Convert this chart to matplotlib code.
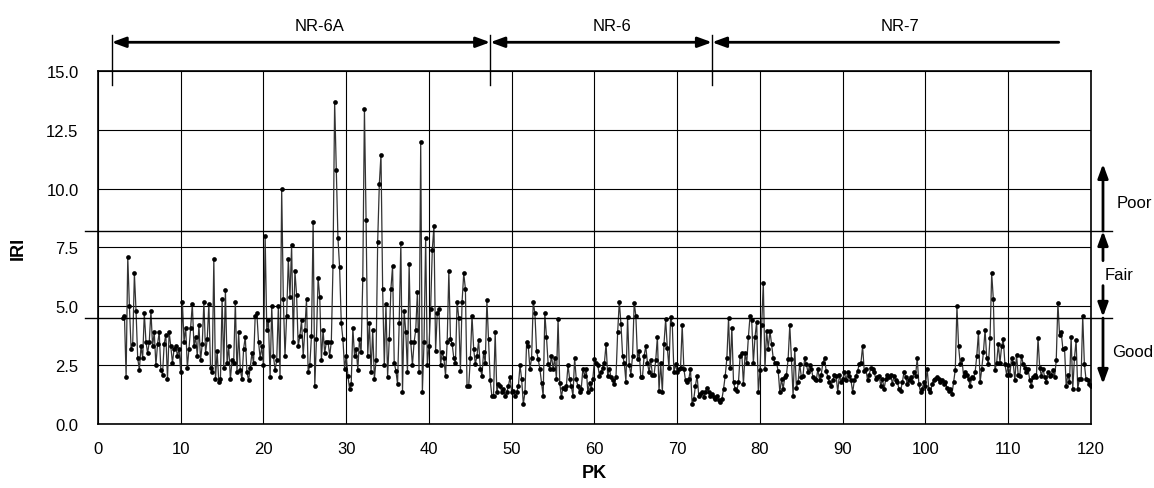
import numpy as np
import matplotlib
matplotlib.use('Agg')
import matplotlib.pyplot as plt
from matplotlib.patches import ArrowStyle

plt.rcParams['font.family'] = ['Liberation Sans', 'DejaVu Sans']

# IRI readings, one every 0.2 km, each list starts at the PK given in seg_start
seg_start = [3.0, 10.0, 20.0, 30.0, 40.0, 50.0, 60.0, 70.0, 80.0, 90.0, 100.0, 110.0]

iri_03 = [4.5, 4.6, 2.0, 7.1, 5.0, 3.2, 3.4, 6.4, 4.8, 2.8, 2.3, 3.3, 2.8, 4.7, 3.5, 3.0, 3.5, 4.8,
          3.3, 3.9, 2.5, 3.4, 3.9, 2.3, 2.1, 3.4, 3.8, 1.9, 3.9, 3.3, 2.6, 3.2, 3.3, 2.9, 3.2]
iri_10 = [2.2, 5.2, 3.5, 4.1, 2.4, 3.2, 4.1, 5.1, 3.3, 3.7,
          2.9, 4.2, 2.7, 3.4, 5.2, 3.0, 3.6, 5.1, 2.4, 2.2,
          7.0, 1.9, 3.1, 1.8, 1.9, 5.3, 2.4, 5.7, 2.6, 3.3,
          1.9, 2.7, 2.6, 5.2, 2.2, 3.9, 2.3, 1.9, 3.2, 3.7,
          2.2, 1.85, 2.4, 3.0, 2.6, 4.6, 4.7, 3.5, 2.8, 3.3]
iri_20 = [2.5, 8.0, 4.0, 4.4, 2.0, 5.0, 2.9, 2.3, 2.7, 5.0,
          2.0, 10.0, 5.3, 2.9, 4.6, 7.0, 5.4, 7.6, 3.5, 6.5,
          5.5, 3.3, 3.75, 4.4, 2.9, 4.0, 5.3, 2.2, 2.5, 3.75,
          8.6, 1.6, 3.6, 6.2, 5.4, 2.7, 4.0, 3.0, 3.5, 3.5,
          2.9, 3.5, 6.7, 13.7, 10.8, 7.9, 6.65, 4.3, 3.6, 2.35]
iri_30 = [2.9, 2.05, 1.5, 1.7, 4.1, 2.9, 3.2, 2.3, 3.6, 3.05,
          6.15, 13.4, 8.65, 2.9, 4.3, 2.2, 4.0, 1.9, 2.7, 7.75,
          10.2, 11.45, 5.75, 2.5, 5.1, 2.0, 3.6, 5.75, 6.7, 2.6,
          2.27, 1.7, 4.3, 7.7, 1.35, 4.8, 3.9, 2.2, 6.8, 3.47,
          2.5, 3.47, 4.0, 5.6, 2.2, 12.0, 1.35, 3.47, 7.9, 2.5]
iri_40 = [3.3, 4.9, 7.4, 8.4, 3.1, 4.7, 4.9, 2.5, 3.05, 2.8,
          2.05, 3.5, 6.5, 3.6, 3.4, 2.8, 2.6, 5.2, 4.5, 2.25,
          5.2, 6.4, 5.75, 1.6, 1.6, 2.8, 4.6, 3.2, 2.55, 2.9,
          3.55, 2.35, 2.05, 3.05, 2.6, 5.25, 3.6, 1.85, 1.2, 1.2,
          3.9, 1.35, 1.7, 1.6, 1.35, 1.5, 1.2, 1.35, 1.6, 2.0]
iri_50 = [1.35, 1.4, 1.2, 1.35, 1.6, 2.5, 1.9, 0.85, 1.35, 3.5,
          3.3, 2.35, 2.8, 5.2, 4.7, 3.1, 2.75, 2.35, 1.75, 1.2,
          4.7, 3.7, 2.55, 2.35, 2.9, 2.35, 2.8, 1.9, 4.45, 1.75,
          1.15, 1.55, 1.5, 1.6, 2.5, 1.9, 1.6, 1.2, 2.8, 1.9,
          1.6, 1.35, 1.5, 2.35, 2.05, 2.35, 1.35, 1.75, 1.5, 1.9]
iri_60 = [2.75, 2.6, 2.5, 2.05, 2.2, 2.4, 2.6, 3.4, 2.05, 2.35,
          1.98, 1.85, 1.7, 2.0, 3.9, 5.2, 4.25, 2.9, 2.6, 1.8,
          4.55, 2.5, 2.1, 2.9, 5.15, 4.6, 2.75, 3.1, 1.98, 2.0,
          2.9, 3.3, 2.6, 2.2, 2.7, 2.1, 2.1, 2.7, 3.7, 1.42,
          2.6, 1.35, 3.4, 4.45, 3.25, 2.4, 4.55, 4.25, 2.2, 2.55]
iri_70 = [2.2, 2.35, 2.4, 4.2, 2.35, 1.85, 1.77, 1.9, 2.35, 0.85,
          1.06, 1.63, 2.05, 1.2, 1.27, 1.35, 1.13, 1.35, 1.55, 1.35,
          1.2, 1.27, 1.13, 1.06, 1.2, 1.0, 0.92, 1.06, 1.5, 2.05,
          2.8, 4.5, 2.4, 4.1, 1.77, 1.5, 1.42, 1.77, 2.9, 3.0,
          1.7, 3.0, 2.6, 3.7, 4.6, 4.4, 2.6, 3.7, 4.35, 1.35]
iri_80 = [2.3, 4.2, 6.0, 2.35, 3.95, 3.2, 3.95, 3.4, 2.8, 2.6,
          2.6, 2.25, 1.35, 1.9, 1.5, 2.0, 2.1, 2.75, 4.2, 2.75,
          1.2, 3.2, 1.55, 1.77, 2.55, 2.0, 2.05, 2.8, 2.55, 2.2,
          2.5, 2.35, 2.0, 1.9, 1.85, 2.35, 1.85, 2.1, 2.6, 2.8,
          2.25, 2.0, 1.77, 1.63, 1.85, 2.1, 2.05, 1.35, 2.1, 1.77]
iri_90 = [1.9, 2.2, 1.85, 2.2, 2.05, 1.85, 1.35, 1.85, 2.05, 2.25,
          2.55, 2.6, 3.3, 2.25, 2.35, 1.85, 2.1, 2.4, 2.35, 2.2,
          1.9, 2.0, 2.05, 1.63, 1.9, 1.5, 1.9, 2.1, 2.0, 2.1,
          1.7, 2.05, 1.85, 1.77, 1.5, 1.42, 1.77, 2.2, 2.0, 1.7,
          1.85, 2.0, 1.8, 2.2, 2.05, 2.8, 1.7, 1.35, 1.5, 1.77]
iri_100 = [1.63, 2.35, 1.5, 1.35, 1.7, 1.85, 1.9, 2.0, 1.9, 1.8,
           1.85, 1.7, 1.77, 1.55, 1.42, 1.5, 1.27, 1.77, 2.3, 5.0,
           3.3, 2.55, 2.75, 2.05, 2.2, 2.1, 1.9, 1.63, 2.0, 1.95,
           2.2, 2.9, 3.9, 1.77, 2.35, 3.05, 4.0, 2.8, 2.55, 3.65,
           6.4, 5.3, 2.3, 2.6, 3.4, 2.6, 3.3, 3.6, 2.55, 2.1]
iri_110 = [2.5, 2.1, 2.8, 2.6, 1.85, 2.95, 2.1, 2.05, 2.9, 2.55,
           2.4, 2.2, 2.35, 1.85, 1.63, 2.0, 2.1, 2.0, 3.65, 2.4,
           2.05, 2.35, 2.0, 1.77, 2.2, 2.05, 2.1, 2.3, 2.0, 2.7,
           5.15, 3.8, 3.9, 3.2, 3.25, 1.63, 2.1, 1.77, 3.7, 1.5,
           2.8, 3.55, 1.5, 1.9, 1.9, 4.6, 2.55, 1.9, 1.85, 1.7, 1.63]

segments = [iri_03, iri_10, iri_20, iri_30, iri_40, iri_50,
            iri_60, iri_70, iri_80, iri_90, iri_100, iri_110]
step = 0.2

pk = np.concatenate([s + step * np.arange(len(v)) for s, v in zip(seg_start, segments)])
iri = np.concatenate([np.array(v) for v in segments])

# road sections along the top (start, end, label, label position)
sections = [(1.65, 47.4, 'NR-6A', 26.8), (47.4, 74.2, 'NR-6', 62.1), (74.2, 116.1, 'NR-7', 96.9)]
section_ticks = [1.65, 47.4, 74.2]

# condition classes on the right
poor_limit = 8.2
good_limit = 4.5

fig = plt.figure(figsize=(11.54, 4.89), dpi=100)
ax = fig.add_axes([0.0849, 0.1309, 0.8605, 0.7219])

ax.plot(pk, iri, '-', color='0.2', lw=0.9, zorder=3)
ax.plot(pk, iri, 'o', color='black', ms=3.4, mew=0, zorder=4)

ax.set_xlim(0, 120)
ax.set_ylim(0, 15)
ax.set_xticks(range(0, 121, 10))
ax.set_yticks(np.arange(0, 15.1, 2.5))
ax.set_yticklabels(['%.1f' % v for v in np.arange(0, 15.1, 2.5)])
ax.tick_params(length=0, labelsize=12)
ax.tick_params(axis='y', pad=14)
ax.tick_params(axis='x', pad=12)
ax.grid(True, color='black', lw=0.8)
ax.set_axisbelow(True)
for sp in ax.spines.values():
    sp.set_linewidth(1.2)

ax.set_xlabel('PK', fontsize=13, fontweight='bold', labelpad=6)
ax.set_ylabel('IRI', fontsize=13, fontweight='bold', labelpad=14)

# thresholds, running past both sides of the axes
for lim in [poor_limit, good_limit]:
    ax.plot([-1.6, 122.5], [lim, lim], color='black', lw=1.0, clip_on=False, zorder=5)

# section arrows on top
arr_y = 16.22
both = ArrowStyle('<|-|>', head_length=0.6, head_width=0.22)
left_only = ArrowStyle('<|-', head_length=0.6, head_width=0.22)
for x0, x1, name, xt in sections:
    style = left_only if name == 'NR-7' else both
    ax.annotate('', xy=(x1, arr_y), xytext=(x0, arr_y), annotation_clip=False,
                arrowprops=dict(arrowstyle=style, color='black', lw=2,
                                mutation_scale=14, shrinkA=0, shrinkB=0))
    ax.text(xt, 16.95, name, ha='center', va='center', fontsize=12)
for x in section_ticks:
    ax.plot([x, x], [14.4, 16.53], color='black', lw=1.0, clip_on=False)

# condition arrows on the right
ax_x = 121.45
up = ArrowStyle('-|>', head_length=0.6, head_width=0.22)
arrows = [(poor_limit, 11.05), (6.94, poor_limit), (5.88, 4.55), (good_limit, 1.7)]
for y0, y1 in arrows:
    ax.annotate('', xy=(ax_x, y1), xytext=(ax_x, y0), annotation_clip=False,
                arrowprops=dict(arrowstyle=up, color='black', lw=2,
                                mutation_scale=14, shrinkA=0, shrinkB=0))
ax.text(123.1, 9.43, 'Poor', ha='left', va='center', fontsize=12)
ax.text(121.7, 6.37, 'Fair', ha='left', va='center', fontsize=12)
ax.text(122.6, 3.1, 'Good', ha='left', va='center', fontsize=12)

plt.savefig('out.png', dpi=100)
